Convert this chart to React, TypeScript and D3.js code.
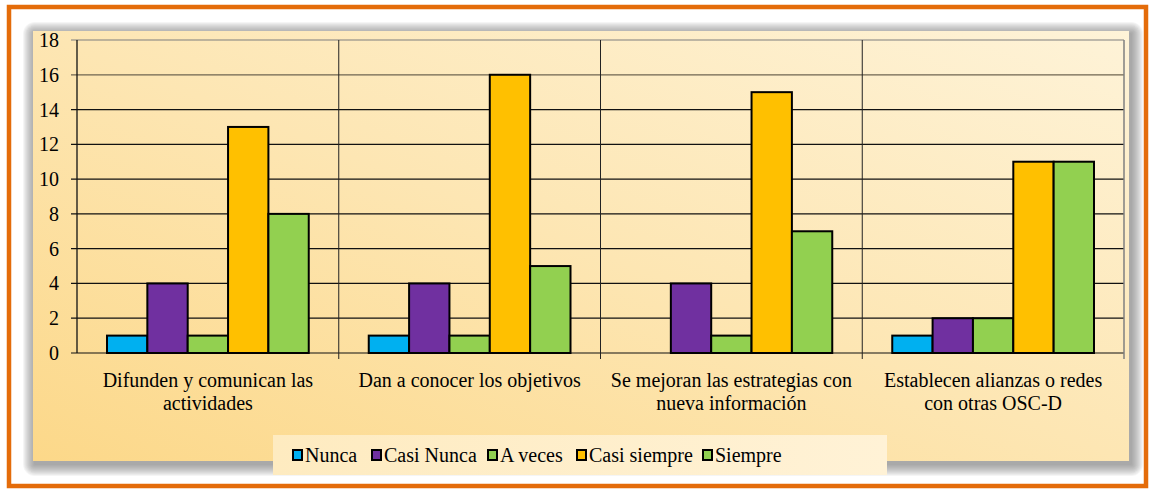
import React from "react";
import * as d3 from "d3";

const categories: string[][] = [
  ["Difunden y comunican las", "actividades"],
  ["Dan a conocer los objetivos"],
  ["Se mejoran las estrategias con", "nueva información"],
  ["Establecen alianzas o redes", "con otras OSC-D"],
];
const seriesNames = ["Nunca", "Casi Nunca", "A veces", "Casi siempre", "Siempre"];
const seriesColors = ["#00B0F0", "#7030A0", "#92D050", "#FFC000", "#92D050"];
const nunca = [1, 1, 0, 1];
const casiNunca = [4, 4, 4, 2];
const aVeces = [1, 1, 1, 2];
const casiSiempre = [13, 16, 15, 11];
const siempre = [8, 5, 7, 11];
const yTicks = [0, 2, 4, 6, 8, 10, 12, 14, 16, 18];

const seriesValues = [nunca, casiNunca, aVeces, casiSiempre, siempre];

const W = 1150;
const H = 489;
const plot = { left: 77, top: 40, right: 1124, bottom: 353 };
const FONT = '"Liberation Serif"';

export default function App() {
  const catIdx = categories.map((_, i) => String(i));
  const x = d3.scaleBand<string>().domain(catIdx).range([plot.left, plot.right]).padding(0);
  const bw = x.bandwidth();
  const xi = d3.scaleBand<string>().domain(seriesNames).range([30, bw - 30]).padding(0);
  const y = d3.scaleLinear().domain([0, 18]).range([plot.bottom, plot.top]);

  const legendItems = [
    { name: "Nunca", mx: 293 },
    { name: "Casi Nunca", mx: 372 },
    { name: "A veces", mx: 488 },
    { name: "Casi siempre", mx: 577 },
    { name: "Siempre", mx: 703 },
  ];
  const ts = { fontFamily: FONT };
  const shadowSteps = d3.range(12);

  return (
    <div>
      <style>{`svg text, .lbl { font-family: "Liberation Serif", "Times New Roman", Times, serif !important; }`}</style>
      <svg width={W} height={H} style={{ position: "absolute", left: 0, top: 0 }}>
        <defs>
          <linearGradient id="bg" x1="0" y1="1" x2="1" y2="0">
            <stop offset="0" stopColor="#FCD889" />
            <stop offset="0.5" stopColor="#FDE6B3" />
            <stop offset="1" stopColor="#FEF3D8" />
          </linearGradient>
          <linearGradient id="legbg" x1="0" y1="0" x2="1" y2="0">
            <stop offset="0" stopColor="#FEEBC0" />
            <stop offset="1" stopColor="#FFF2D6" />
          </linearGradient>
        </defs>
        <rect x={0} y={0} width={W} height={H} fill="#ffffff" />
        <rect x={9} y={7} width={1137} height={479} fill="#ffffff" stroke="#E46C0A" strokeWidth={4.5} />
        {shadowSteps.map((k) => (
          <rect key={k} x={33 - 12 + k + 2} y={31 - 12 + k + 3} width={1096 + 2 * (12 - k)} height={430 + 2 * (12 - k)}
            rx={12 - k} fill="#6f6f6f" opacity={0.07} />
        ))}
        <rect x={33} y={31} width={1096} height={430} fill="url(#bg)" />
        {yTicks.map((t) => (
          <line key={t} x1={plot.left - 6} x2={plot.right} y1={y(t)} y2={y(t)}
            stroke={t === 18 ? "#7f7f7f" : t === 16 ? "#6e6450" : "#111"} strokeWidth={1.2} />
        ))}
        {catIdx.slice(1).map((c) => (
          <line key={c} x1={x(c)} x2={x(c)} y1={plot.top} y2={plot.bottom + 6} stroke="#222" strokeWidth={1} />
        ))}
        <line x1={plot.right} x2={plot.right} y1={plot.top} y2={plot.bottom + 6} stroke="#7f7f7f" strokeWidth={1.5} />
        <line x1={plot.left} x2={plot.left} y1={plot.top} y2={plot.bottom} stroke="#111" strokeWidth={1.3} />
        {catIdx.map((c, ci) =>
          seriesNames.map((s, si) => {
            const v = seriesValues[si][ci];
            if (v <= 0) return null;
            return (
              <rect key={c + s} x={(x(c) as number) + (xi(s) as number)} y={y(v)} width={xi.bandwidth()}
                height={y(0) - y(v)} fill={seriesColors[si]} stroke="#000" strokeWidth={2} />
            );
          })
        )}
        {yTicks.map((t) => (
          <text key={t} className="lbl" x={59} y={y(t) + 7} textAnchor="end" fontSize={20} fill="#000" style={ts}>{t}</text>
        ))}
        {categories.map((lines, ci) =>
          lines.map((l, li) => (
            <text key={ci + "-" + li} className="lbl" x={(x(String(ci)) as number) + bw / 2} y={387 + li * 23} textAnchor="middle"
              fontSize={20} fill="#000" style={ts}>{l}</text>
          ))
        )}
        <rect x={273} y={435} width={614} height={40} fill="url(#legbg)" />
        {legendItems.map((it) => (
          <g key={it.name}>
            <rect x={it.mx} y={450} width={9} height={10} fill={seriesColors[seriesNames.indexOf(it.name)]} stroke="#000" strokeWidth={2} />
            <text className="lbl" x={it.mx + 12} y={462} fontSize={20} fill="#000" style={ts}>{it.name}</text>
          </g>
        ))}
      </svg>
    </div>
  );
}
